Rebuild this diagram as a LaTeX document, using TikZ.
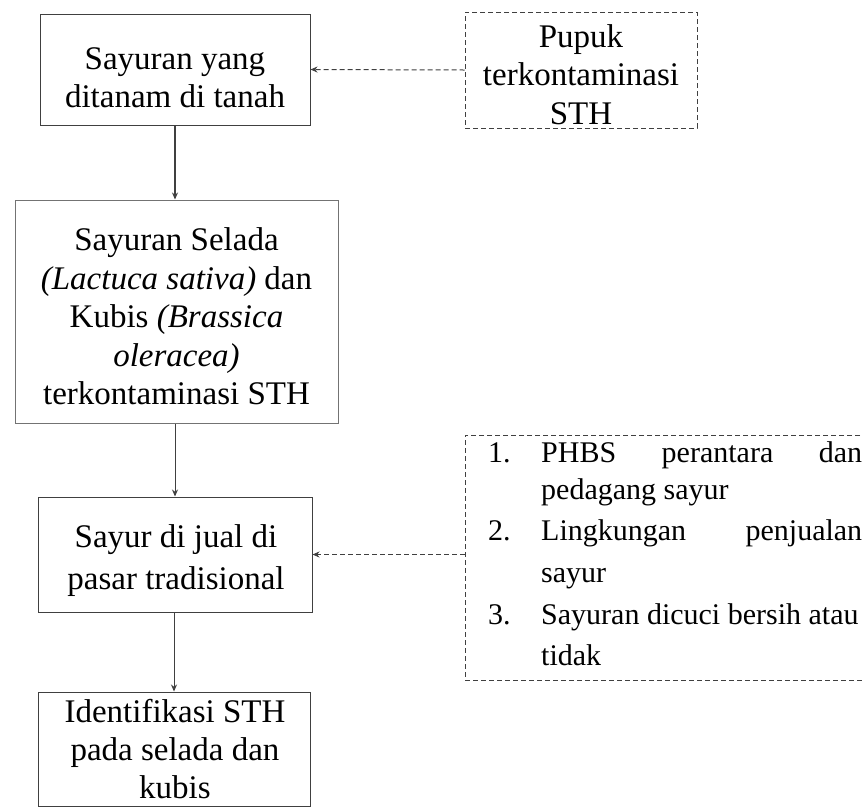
\documentclass[tikz,border=0pt]{standalone}
\usepackage{fontspec}
\setmainfont{Liberation Serif}
\usetikzlibrary{arrows.meta}
\begin{document}
\begin{tikzpicture}[x=1pt,y=-1pt,
  box/.style={draw=black!75, line width=1pt, rectangle, inner sep=0pt},
  dbox/.style={box, dash pattern=on 5pt off 3pt},
  txt/.style={inner sep=0pt, align=center, font=\fontsize{33}{38}\selectfont},
  conn/.style={draw=black!75, line width=1pt, -{Stealth[length=7pt,width=6pt]}},
  dconn/.style={conn, dash pattern=on 5pt off 3pt},
  item/.style={anchor=west, inner sep=0pt, font=\fontsize{30}{36}\selectfont, text height=21pt, text depth=7pt}
]
\useasboundingbox (0,0) rectangle (863,807);
\fill[white] (0,0) rectangle (863,807);

\node[box, minimum width=270pt, minimum height=111pt] (b1) at (175,69.5) {};
\node[txt] (b1t) at (175,78) {Sayuran yang\\ditanam di tanah};

\node[dbox, minimum width=232pt, minimum height=116pt] (b2) at (581,70) {};
\node[txt, font=\fontsize{33}{38.5}\selectfont] (b2t) at (581,74.5) {Pupuk\\terkontaminasi\\STH};

\node[box, draw=black!55, minimum width=323pt, minimum height=223pt] (b3) at (176.5,311.5) {};
\node[txt, font=\fontsize{33}{38.5}\selectfont] (b3t) at (176.5,316.5)
  {Sayuran Selada\\\textit{(Lactuca sativa)} dan\\Kubis \textit{(Brassica}\\\textit{oleracea)}\\terkontaminasi STH};

\node[box, minimum width=274pt, minimum height=115pt] (b4) at (175,554.5) {};
\node[txt, font=\fontsize{33}{42}\selectfont] (b4t) at (176,561) {Sayur di jual di\\pasar tradisional};

\node[box, minimum width=272pt, minimum height=114pt] (b5) at (174,749) {};
\node[txt] (b5t) at (175,749) {Identifikasi STH\\pada selada dan\\kubis};

\node[dbox, minimum width=415pt, minimum height=245pt] (lst) at (672.5,557.5) {};

\node[item] (n1) at (488,455) {1.};
\node[item] (t1) at (541,455) {\makebox[321pt][s]{PHBS\hfill perantara\hfill dan}};
\node[item] (t1b) at (541,492) {pedagang sayur};
\node[item] (n2) at (488,533) {2.};
\node[item] (t2) at (541,533) {\makebox[321pt][s]{Lingkungan\hfill penjualan}};
\node[item] (t2b) at (541,575) {sayur};
\node[item] (n3) at (488,617) {3.};
\node[item] (t3) at (541,617) {Sayuran dicuci bersih atau};
\node[item] (t3b) at (541,658) {tidak};

\draw[dconn] (b2.west) -- (b1.east);
\draw[conn, line width=1.6pt] (b1.south) -- (b1.south |- b3.north);
\draw[conn] (b4.north |- b3.south) -- (b4.north);
\draw[conn] (b4.south -| b5.north) -- (b5.north);
\draw[dconn] (lst.west |- b4.east) -- (b4.east);
\end{tikzpicture}
\end{document}
